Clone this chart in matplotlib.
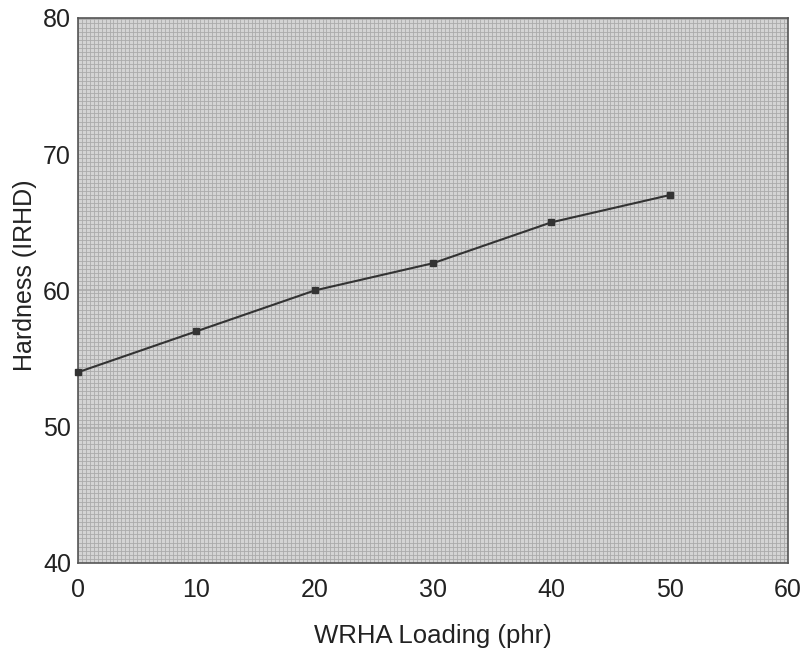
import matplotlib
matplotlib.use("Agg")
import matplotlib.pyplot as plt
import numpy as np

loading = [0, 10, 20, 30, 40, 50]
hardness = [54, 57, 60, 62, 65, 67]
xticks = [0, 10, 20, 30, 40, 50, 60]
yticks = [40, 50, 60, 70, 80]

plt.rcParams['font.family'] = ['Liberation Sans', 'DejaVu Sans']

fig = plt.figure(figsize=(8.03, 6.51), dpi=100)
ax = fig.add_axes([0.0971, 0.1352, 0.8842, 0.8372])
ax.set_facecolor('#d4d4d4')
ax.set_xlim(0, 60)
ax.set_ylim(40, 80)
ax.set_xticks(xticks)
ax.set_yticks(yticks)
ax.set_xticks(np.arange(0, 60.01, 1/3), minor=True)
ax.set_yticks(np.arange(40, 80.01, 0.3), minor=True)
ax.grid(which='minor', color='#ababab', linewidth=0.6)
ax.grid(which='major', color='#ababab', linewidth=0.6)
ax.set_axisbelow(True)
ax.tick_params(which='both', length=0)
ax.tick_params(axis='x', pad=11, labelsize=18, colors='#222222')
ax.tick_params(axis='y', pad=5, labelsize=18, colors='#222222')
for s in ax.spines.values():
    s.set_color('#555555')
    s.set_linewidth(1.2)

ax.plot(loading, hardness, color='#333333', linewidth=1.5, marker='s',
        markersize=4, clip_on=False, zorder=5)

ax.set_xlabel('WRHA Loading (phr)', fontsize=18.5, labelpad=16, color='#222222')
ax.set_ylabel('Hardness (IRHD)', fontsize=18, color='#222222')
ax.yaxis.set_label_coords(-0.058, 0.528)

fig.savefig('out.png', dpi=100)
